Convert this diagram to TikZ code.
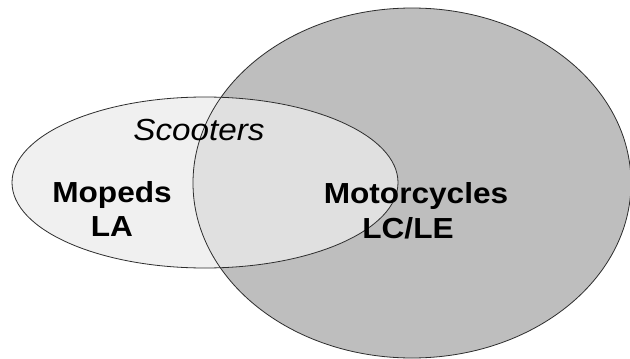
\documentclass[tikz,border=0pt]{standalone}
\usepackage{fontspec}
\usepackage{tikz}
\newfontfamily\vennfont[FakeStretch=1.09]{Liberation Sans}
\definecolor{bigfill}{RGB}{190,190,190}
\definecolor{smallfill}{RGB}{236,236,236}
\definecolor{rimline}{RGB}{45,45,45}

\begin{document}
\begin{tikzpicture}[x = 1pt, y = -1pt]
		\tikzset{rim/.style = {draw = rimline, line width = 0.8pt},
			setname/.style = {anchor = base, inner sep = 0pt, font = \vennfont\bfseries\fontsize{29}{34}\selectfont},
			subname/.style = {anchor = base, inner sep = 0pt, font = \vennfont\itshape\fontsize{30.5}{36}\selectfont}}
		\useasboundingbox (0,0) rectangle (630,359);
		\fill[white] (0,0) rectangle (630,359);
		\fill[bigfill] (412,183) ellipse (219 and 175);
		\fill[smallfill, fill opacity = 0.75] (205,182.5) ellipse (193 and 85.5);
		\draw[rim] (412,183) ellipse (219 and 175);
		\draw[rim] (205,182.5) ellipse (193 and 85.5);
		\node[subname] (scooters) at (199,140) {Scooters};
		\node[setname] (mopeds) at (112,202) {Mopeds};
		\node[setname] (la) at (112,236) {LA};
		\node[setname] (motorcycles) at (416,203) {Motorcycles};
		\node[setname] (lcle) at (408,238) {LC/LE};
	\end{tikzpicture}
\end{document}
